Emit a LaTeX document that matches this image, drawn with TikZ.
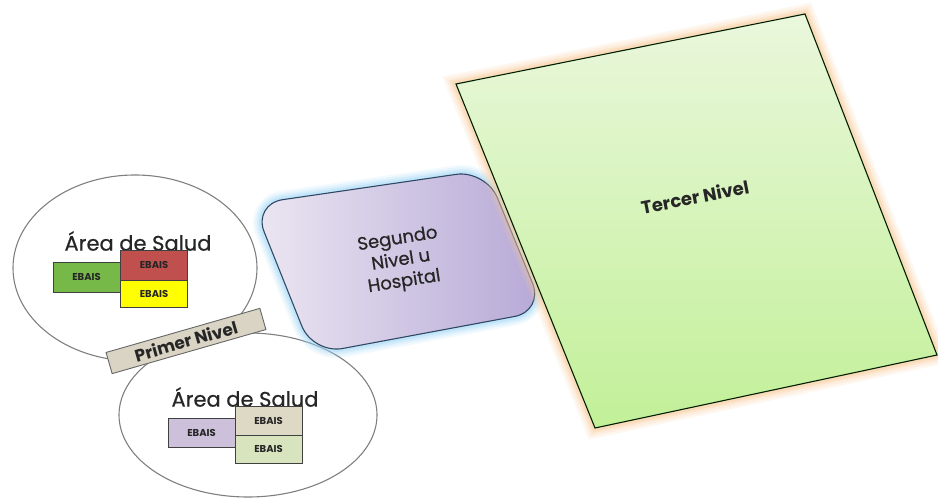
\documentclass[tikz,border=0pt]{standalone}
\usepackage{fontspec}
\setmainfont{Poppins}
\newfontfamily\medfont{Poppins}[FakeBold=0.6]
\begin{document}
\begin{tikzpicture}[x=1pt,y=-1pt,
  circ/.style={draw=black!50, line width=1.1pt, fill=white},
  ebais/.style={draw=black!75, line width=0.9pt, minimum width=67pt, inner sep=0pt,
     font=\fontsize{10}{12}\selectfont\bfseries, text=black!85},
  areatitle/.style={font=\medfont\fontsize{21}{24}\selectfont, text=black!85, inner sep=0pt},
  bigtext/.style={font=\medfont\fontsize{18}{21.5}\selectfont, text=black!85, align=center, inner sep=0pt}
]
\definecolor{ebgreen}{RGB}{118,185,72}
\definecolor{ebred}{RGB}{192,80,77}
\definecolor{ebyellow}{RGB}{255,255,0}
\definecolor{eblav}{RGB}{204,192,218}
\definecolor{ebtan}{RGB}{221,217,196}
\definecolor{ebsage}{RGB}{215,228,189}
\definecolor{segL}{RGB}{236,231,242}
\definecolor{segR}{RGB}{182,168,214}
\definecolor{segB}{RGB}{47,72,100}
\definecolor{glowblue}{RGB}{150,210,245}
\definecolor{glowor}{RGB}{247,200,150}
\definecolor{terT}{RGB}{234,247,220}
\definecolor{terB}{RGB}{194,240,152}
\definecolor{primfill}{RGB}{217,212,196}
\useasboundingbox (0,0) rectangle (938,500);

% circles
\path[circ] (135,268) ellipse [x radius=122, y radius=93];
\path[circ] (248,415) ellipse [x radius=129, y radius=82];

% upper area
\node[areatitle] (t1) at (138,241) {Área de Salud};
\node[ebais, fill=ebgreen, minimum height=30pt] (e1) at (86.5,277) {EBAIS};
\node[ebais, fill=ebred, minimum height=30pt] (e2) at (154,265) {EBAIS};
\node[ebais, fill=ebyellow, minimum height=27pt] (e3) at (154,293.5) {EBAIS};

% lower area
\node[areatitle] (t2) at (245,397) {Área de Salud};
\node[ebais, fill=eblav, minimum height=29pt] (e4) at (201.5,432.5) {EBAIS};
\node[ebais, fill=ebtan, minimum height=29pt] (e5) at (268.5,420.5) {EBAIS};
\node[ebais, fill=ebsage, minimum height=28pt] (e6) at (268.5,449) {EBAIS};

% primer nivel
\node[draw=black!60, line width=0.9pt, fill=primfill, rotate=16, minimum width=160pt,
  minimum height=22pt, inner sep=0pt, font=\fontsize{17}{18}\selectfont\bfseries, text=black!85]
  (p1) at (186,341) {Primer Nivel};

% segundo nivel
\foreach \w/\o in {18/0.12,14/0.15,10/0.2,6/0.3}{
  \draw[glowblue, line width=\w pt, opacity=\o, rounded corners=30pt]
    (253,204) -- (486,170) -- (544,311) -- (313,354) -- cycle;
}
\shade[left color=segL, right color=segR, draw=segB, line width=1.1pt, rounded corners=30pt]
    (253,204) -- (486,170) -- (544,311) -- (313,354) -- cycle;
\node[bigtext, rotate=9] (s1) at (401,261) {Segundo\\Nivel u\\Hospital};

% tercer nivel
\foreach \w/\o in {20/0.15,15/0.18,10/0.25,6/0.35}{
  \draw[glowor, line width=\w pt, opacity=\o]
    (456,84) -- (805,14) -- (937,355) -- (595,428) -- cycle;
}
\shade[top color=terT, bottom color=terB, draw=black!70!green!40!black, line width=1.1pt]
    (456,84) -- (805,14) -- (937,355) -- (595,428) -- cycle;
\node[bigtext, rotate=11, font=\fontsize{18}{20}\selectfont\bfseries] (tn) at (695,197) {Tercer Nivel};
\end{tikzpicture}
\end{document}
